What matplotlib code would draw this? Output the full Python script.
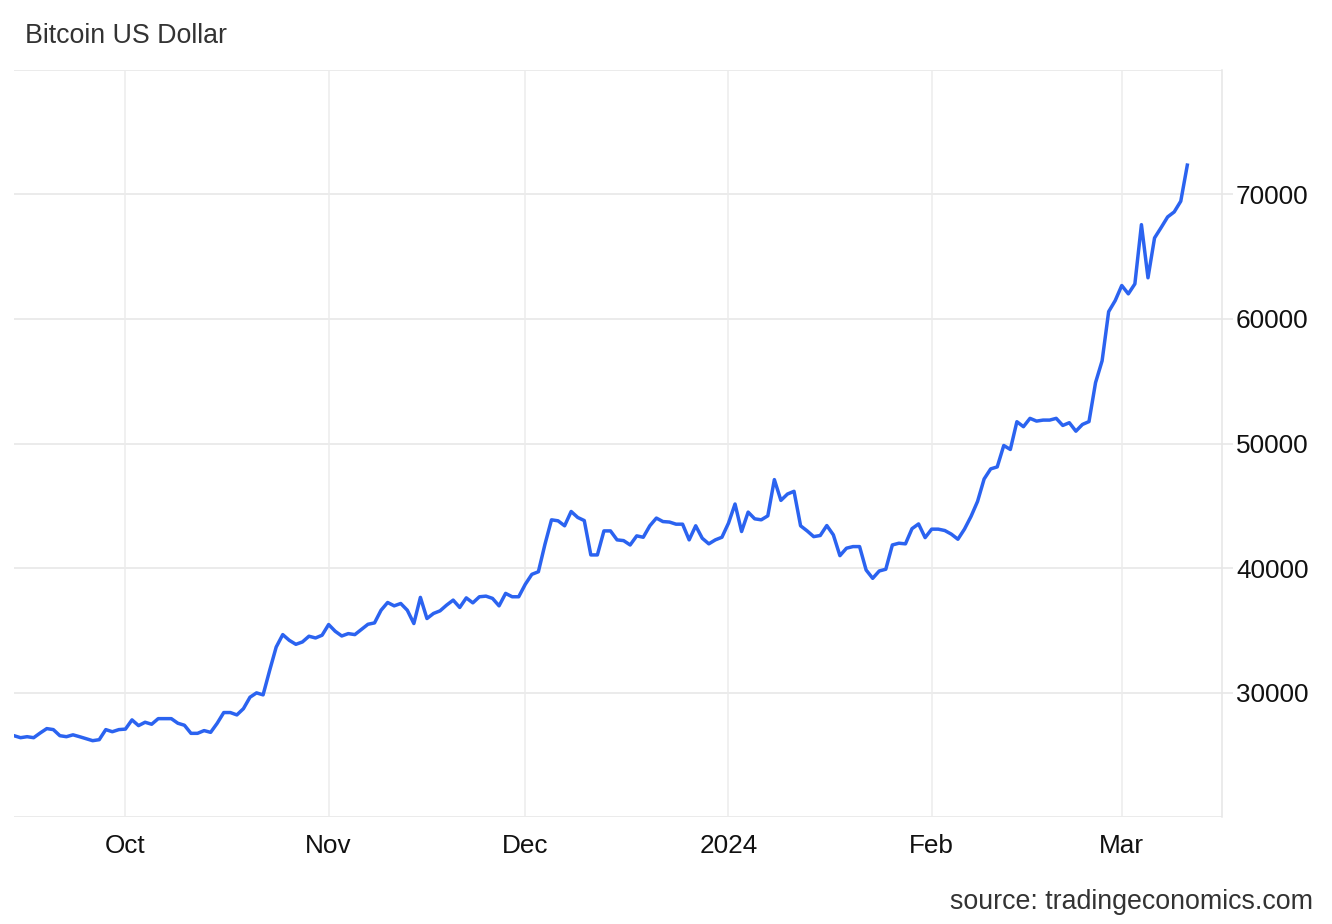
import matplotlib
matplotlib.use("Agg")
import matplotlib.pyplot as plt
import matplotlib.dates as mdates
import pandas as pd
import numpy as np

# ---- data (daily) ----
start_date = "2023-09-14"
prices = [
    26530, 26370, 26450, 26370, 26750, 27100, 27020, 26530, 26450, 26600,
    26450, 26290, 26130, 26210, 27020, 26850, 27020, 27060, 27800, 27340,
    27610, 27450, 27900, 27900, 27900, 27530, 27370, 26720, 26720, 26940,
    26800, 27530, 28390, 28390, 28200, 28700, 29620, 29970, 29810, 31770,
    33650, 34650, 34190, 33870, 34060, 34520, 34380, 34600, 35460, 34920,
    34540, 34730, 34650, 35060, 35480, 35590, 36610, 37230, 36960, 37150,
    36610, 35540, 37640, 35940, 36350, 36560, 37020, 37420, 36830, 37600,
    37200, 37690, 37740, 37560, 36960, 37960, 37690, 37690, 38690, 39490,
    39700, 41900, 43870, 43790, 43390, 44540, 44060, 43810, 41050, 41050,
    42980, 42980, 42260, 42200, 41850, 42580, 42470, 43390, 44010, 43730,
    43690, 43520, 43520, 42260, 43390, 42390, 41940, 42260, 42470, 43600,
    45140, 42930, 44490, 43950, 43870, 44190, 47100, 45430, 45940, 46160,
    43390, 42980, 42520, 42610, 43410, 42660, 40990, 41590, 41720, 41720,
    39840, 39170, 39760, 39900, 41850, 41990, 41940, 43160, 43540, 42440,
    43120, 43120, 43010, 42720, 42310, 43120, 44140, 45350, 47150, 47960,
    48120, 49840, 49520, 51750, 51350, 52020, 51800, 51880, 51880, 52020,
    51450, 51670, 50990, 51530, 51760, 54890, 56640, 60590, 61480, 62690,
    62020, 62820, 67580, 63310, 66510, 67340, 68200, 68600, 69460, 72360,
]
dates = pd.date_range(start_date, periods=len(prices), freq="D")

y_ticks = [30000, 40000, 50000, 60000, 70000]
y_grid = [20000, 30000, 40000, 50000, 60000, 70000, 80000]
month_ticks = pd.to_datetime(["2023-10-01", "2023-11-01", "2023-12-01",
                              "2024-01-01", "2024-02-01", "2024-03-01"])
month_labels = ["Oct", "Nov", "Dec", "2024", "Feb", "Mar"]

title = "Bitcoin US Dollar"
source = "source: tradingeconomics.com"

# ---- figure ----
plt.rcParams["font.family"] = ["Liberation Sans", "DejaVu Sans"]
W, H = 1332, 924
fig = plt.figure(figsize=(W / 100, H / 100), dpi=100)
left, right, top, bottom = 14, 1222, 70, 817
ax = fig.add_axes([left / W, 1 - bottom / H, (right - left) / W, (bottom - top) / H])

grid_c = "#e6e6e6"
ax.plot(dates, prices, color="#2b63f0", lw=2.5, solid_joinstyle="round", zorder=3)

ax.set_ylim(20000, 80000)
ax.set_xlim(pd.Timestamp("2023-09-14"), pd.Timestamp("2024-03-16 07:00"))

for g in y_grid:
    ax.axhline(g, color=grid_c, lw=1.1, zorder=1)
for m in month_ticks:
    ax.axvline(m, color="#ececec", lw=1.1, zorder=1)

for s in ["left", "top", "bottom"]:
    ax.spines[s].set_visible(False)
ax.spines["right"].set_color(grid_c)
ax.spines["right"].set_linewidth(1.1)

ax.yaxis.tick_right()
ax.set_yticks(y_ticks)
ax.set_yticklabels([str(v) for v in y_ticks])
ax.tick_params(axis="y", length=8, width=1.1, color=grid_c, pad=2,
               labelsize=18.8, labelcolor="#111111")

ax.set_xticks(month_ticks)
ax.set_xticklabels(month_labels)
ax.tick_params(axis="x", length=0, pad=12, labelsize=18.8, labelcolor="#111111")

fig.text(25 / W, 1 - 36 / H, title, fontsize=19.3, color="#333333",
         ha="left", va="center")
fig.text(1313 / W, 1 - 902 / H, source, fontsize=19.3, color="#333333",
         ha="right", va="center")

fig.savefig("out.png", dpi=100, facecolor="white")
